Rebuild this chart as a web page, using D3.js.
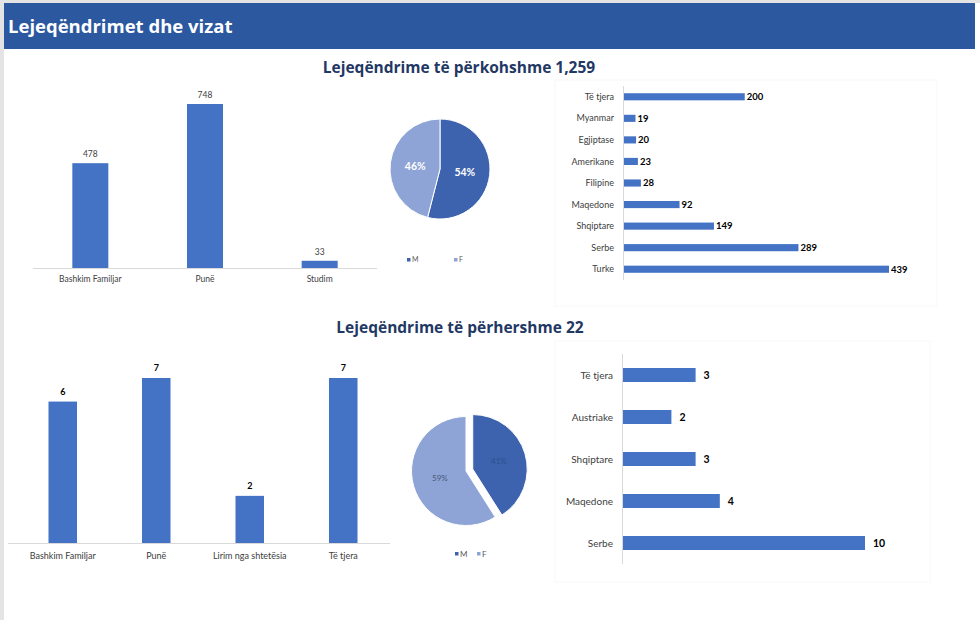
<!DOCTYPE html>
<html>
<head>
<meta charset="utf-8">
<script src="https://cdn.jsdelivr.net/npm/d3@7"></script>
<style>
  body { margin: 0; background: #fff; }
  text { font-family: Lato, "Open Sans", sans-serif; }
  .head { font-family: "Open Sans", sans-serif; font-weight: 700; }
</style>
</head>
<body>
<div id="chart"></div>
<script>
// Temporary permits
const tempPurpose = ["Bashkim Familjar", "Punë", "Studim"];
const tempPurposeVals = [478, 748, 33];
const genders = ["M", "F"];
const tempGenderPct = [54, 46];
const tempNat = ["Të tjera", "Myanmar", "Egjiptase", "Amerikane", "Filipine", "Maqedone", "Shqiptare", "Serbe", "Turke"];
const tempNatVals = [200, 19, 20, 23, 28, 92, 149, 289, 439];

// Permanent permits
const permPurpose = ["Bashkim Familjar", "Punë", "Lirim nga shtetësia", "Të tjera"];
const permPurposeVals = [6, 7, 2, 7];
const permGenderPct = [41, 59];
const permNat = ["Të tjera", "Austriake", "Shqiptare", "Maqedone", "Serbe"];
const permNatVals = [3, 2, 3, 4, 10];

const width = 980, height = 620;
const barColor = "#4472c4";
const pieColors = ["#3d63ae", "#8fa4d6"];

const svg = d3.select("#chart").append("svg")
    .attr("width", width)
    .attr("height", height);

// page frame
svg.append("rect").attr("width", width).attr("height", 3).attr("fill", "#e4e4e4");
svg.append("rect").attr("width", 4).attr("height", height).attr("fill", "#e4e4e4");
svg.append("rect").attr("x", 4).attr("y", 3).attr("width", 971).attr("height", 46).attr("fill", "#2b589f");
svg.append("text").attr("class", "head")
    .attr("x", 8).attr("y", 33)
    .attr("fill", "#fff").attr("font-size", 18.5)
    .text("Lejeqëndrimet dhe vizat");

// faint chart boxes on the right
svg.append("rect").attr("x", 555).attr("y", 80).attr("width", 382).attr("height", 226)
    .attr("fill", "none").attr("stroke", "#f8f8f8");
svg.append("rect").attr("x", 555).attr("y", 341).attr("width", 375).attr("height", 241)
    .attr("fill", "none").attr("stroke", "#f8f8f8");

svg.append("text").attr("class", "head")
    .attr("x", 459).attr("y", 73).attr("text-anchor", "middle")
    .attr("fill", "#1f3864").attr("font-size", 15.5)
    .text("Lejeqëndrime të përkohshme 1,259");
svg.append("text").attr("class", "head")
    .attr("x", 460).attr("y", 333).attr("text-anchor", "middle")
    .attr("fill", "#1f3864").attr("font-size", 15.5)
    .text("Lejeqëndrime të përhershme 22");

/*
Vertical column chart.
*/
function columnChart(o) {
    const x = d3.scaleBand().domain(o.cats).range(o.xRange)
        .paddingInner(o.pad).paddingOuter(o.pad / 2);
    const y = d3.scaleLinear().domain([0, d3.max(o.vals)]).range([o.base, o.top]);
    const g = svg.append("g");

    g.append("line")
        .attr("x1", o.lineX[0]).attr("x2", o.lineX[1])
        .attr("y1", o.base + 0.5).attr("y2", o.base + 0.5)
        .attr("stroke", "#d9d9d9");

    g.selectAll("rect")
        .data(o.vals)
        .join("rect")
            .attr("x", (d, i) => x(o.cats[i]))
            .attr("y", d => y(d))
            .attr("width", x.bandwidth())
            .attr("height", d => y(0) - y(d))
            .attr("fill", barColor);

    g.selectAll(".val")
        .data(o.vals)
        .join("text")
            .attr("class", "val")
            .attr("x", (d, i) => x(o.cats[i]) + x.bandwidth() / 2)
            .attr("y", d => y(d) - o.valGap)
            .attr("text-anchor", "middle")
            .attr("font-size", o.valSize)
            .attr("font-weight", o.valBold ? 700 : 400)
            .attr("fill", o.valBold ? "#000" : "#404040")
            .text(d => d);

    g.selectAll(".cat")
        .data(o.cats)
        .join("text")
            .attr("class", "cat")
            .attr("x", d => x(d) + x.bandwidth() / 2)
            .attr("y", o.base + o.catGap)
            .attr("text-anchor", "middle")
            .attr("font-size", o.catSize)
            .attr("fill", "#404040")
            .text(d => d);
}

/*
Horizontal bar chart.
*/
function barChart(o) {
    const y = d3.scaleBand().domain(o.cats).range(o.yRange)
        .paddingInner(o.pad).paddingOuter(o.pad / 2);
    const x = d3.scaleLinear().domain([0, d3.max(o.vals)]).range(o.xRange);
    const g = svg.append("g");

    g.append("line")
        .attr("x1", o.xRange[0] - 0.5).attr("x2", o.xRange[0] - 0.5)
        .attr("y1", o.yRange[0]).attr("y2", o.yRange[1])
        .attr("stroke", "#d9d9d9");

    g.selectAll("rect")
        .data(o.vals)
        .join("rect")
            .attr("x", x(0))
            .attr("y", (d, i) => y(o.cats[i]))
            .attr("width", d => x(d) - x(0))
            .attr("height", y.bandwidth())
            .attr("fill", barColor);

    g.selectAll(".val")
        .data(o.vals)
        .join("text")
            .attr("class", "val")
            .attr("x", d => x(d) + o.valGap)
            .attr("y", (d, i) => y(o.cats[i]) + y.bandwidth() / 2)
            .attr("dy", "0.35em")
            .attr("font-size", o.valSize)
            .attr("font-weight", 700)
            .attr("fill", "#000")
            .text(d => d);

    g.selectAll(".cat")
        .data(o.cats)
        .join("text")
            .attr("class", "cat")
            .attr("x", o.xRange[0] - 10)
            .attr("y", d => y(d) + y.bandwidth() / 2)
            .attr("dy", "0.35em")
            .attr("text-anchor", "end")
            .attr("font-size", o.catSize)
            .attr("fill", "#404040")
            .text(d => d);
}

/*
Pie with M / F shares.
*/
function pieChart(o) {
    const pie = d3.pie().sort(null).value(d => d);
    const arc = d3.arc().innerRadius(0).outerRadius(o.r);
    const slices = pie(o.vals);
    const g = svg.append("g").attr("transform", `translate(${o.cx},${o.cy})`);

    const shift = (d, i) => {
        const k = i === 0 ? o.explode : 0;
        const a = (d.startAngle + d.endAngle) / 2;
        return [Math.sin(a) * k, -Math.cos(a) * k];
    };

    g.selectAll("path")
        .data(slices)
        .join("path")
            .attr("d", arc)
            .attr("transform", (d, i) => `translate(${shift(d, i)})`)
            .attr("fill", (d, i) => pieColors[i])
            .attr("stroke", "#fff")
            .attr("stroke-width", 1);

    g.selectAll(".lbl")
        .data(slices)
        .join("text")
            .attr("class", "lbl")
            .attr("transform", (d, i) => {
                const c = arc.centroid(d), s = shift(d, i);
                return `translate(${c[0] + s[0]},${c[1] + s[1]})`;
            })
            .attr("dy", "0.35em")
            .attr("text-anchor", "middle")
            .attr("font-size", o.lblSize)
            .attr("font-weight", o.lblBold ? 700 : 400)
            .attr("fill", (d, i) => o.lblColors[i])
            .text(d => d.data + "%");

    const lg = svg.append("g");
    genders.forEach((gname, i) => {
        lg.append("rect")
            .attr("x", o.legX[i]).attr("y", o.legY - 2)
            .attr("width", 3.5).attr("height", 3.5)
            .attr("fill", pieColors[i]);
        lg.append("text")
            .attr("x", o.legX[i] + 5).attr("y", o.legY)
            .attr("dy", "0.35em")
            .attr("font-size", o.legSize)
            .attr("fill", "#595959")
            .text(gname);
    });
}

columnChart({
    cats: tempPurpose, vals: tempPurposeVals,
    xRange: [33, 377], lineX: [33, 377], pad: 0.686,
    base: 268, top: 104,
    valGap: 6, valSize: 8.5, valBold: false,
    catGap: 14, catSize: 8.5
});

pieChart({
    vals: tempGenderPct, cx: 440, cy: 169, r: 50, explode: 0,
    lblSize: 10.5, lblBold: true, lblColors: ["#fff", "#fff"],
    legX: [407, 454], legY: 260, legSize: 7
});

barChart({
    cats: tempNat, vals: tempNatVals,
    yRange: [86, 280], xRange: [624, 889], pad: 0.67,
    valGap: 2, valSize: 9.5, catSize: 9
});

columnChart({
    cats: permPurpose, vals: permPurposeVals,
    xRange: [16, 390], lineX: [8, 390], pad: 0.695,
    base: 543, top: 378,
    valGap: 7, valSize: 9, valBold: true,
    catGap: 16, catSize: 9
});

pieChart({
    vals: permGenderPct, cx: 466, cy: 471, r: 54.5, explode: 7,
    lblSize: 8, lblBold: false, lblColors: ["#2c4f8f", "#48597a"],
    legX: [455, 477], legY: 554, legSize: 8
});

barChart({
    cats: permNat, vals: permNatVals,
    yRange: [354, 564], xRange: [623, 865], pad: 0.667,
    valGap: 8, valSize: 10.5, catSize: 10
});
</script>
</body>
</html>
